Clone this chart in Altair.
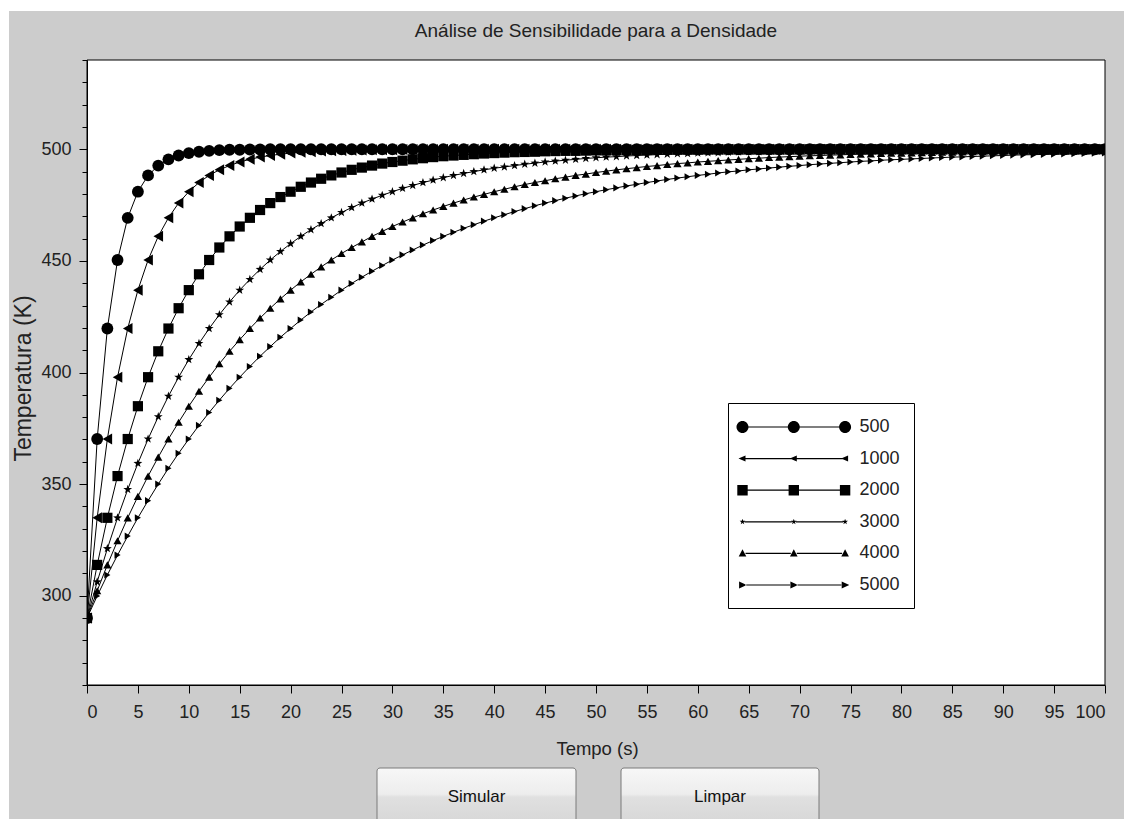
import altair as alt
import pandas as pd

# ---------------- data ----------------
TEMPO = [
    0, 1, 2, 3, 4, 5, 6, 7, 8, 9, 10, 11, 12, 13, 14, 15, 16, 17, 18, 19,
    20, 21, 22, 23, 24, 25, 26, 27, 28, 29, 30, 31, 32, 33, 34, 35, 36, 37, 38, 39,
    40, 41, 42, 43, 44, 45, 46, 47, 48, 49, 50, 51, 52, 53, 54, 55, 56, 57, 58, 59,
    60, 61, 62, 63, 64, 65, 66, 67, 68, 69, 70, 71, 72, 73, 74, 75, 76, 77, 78, 79,
    80, 81, 82, 83, 84, 85, 86, 87, 88, 89, 90, 91, 92, 93, 94, 95, 96, 97, 98, 99, 100,
]
DENSIDADES = ["500", "1000", "2000", "3000", "4000", "5000"]

T_500 = [
    290.0, 370.2, 419.7, 450.4, 469.3, 481.0, 488.3, 492.7, 495.5, 497.2,
    498.3, 498.9, 499.3, 499.6, 499.8, 499.8, 499.9, 499.9, 500.0, 500.0,
    500.0, 500.0, 500.0, 500.0, 500.0, 500.0, 500.0, 500.0, 500.0, 500.0,
    500.0, 500.0, 500.0, 500.0, 500.0, 500.0, 500.0, 500.0, 500.0, 500.0,
    500.0, 500.0, 500.0, 500.0, 500.0, 500.0, 500.0, 500.0, 500.0, 500.0,
    500.0, 500.0, 500.0, 500.0, 500.0, 500.0, 500.0, 500.0, 500.0, 500.0,
    500.0, 500.0, 500.0, 500.0, 500.0, 500.0, 500.0, 500.0, 500.0, 500.0,
    500.0, 500.0, 500.0, 500.0, 500.0, 500.0, 500.0, 500.0, 500.0, 500.0,
    500.0, 500.0, 500.0, 500.0, 500.0, 500.0, 500.0, 500.0, 500.0, 500.0,
    500.0, 500.0, 500.0, 500.0, 500.0, 500.0, 500.0, 500.0, 500.0, 500.0,
    500.0,
]
T_1000 = [
    290.0, 334.9, 370.2, 397.9, 419.7, 436.9, 450.4, 461.0, 469.3, 475.9,
    481.0, 485.1, 488.3, 490.8, 492.7, 494.3, 495.5, 496.5, 497.2, 497.8,
    498.3, 498.7, 498.9, 499.2, 499.3, 499.5, 499.6, 499.7, 499.8, 499.8,
    499.8, 499.9, 499.9, 499.9, 499.9, 500.0, 500.0, 500.0, 500.0, 500.0,
    500.0, 500.0, 500.0, 500.0, 500.0, 500.0, 500.0, 500.0, 500.0, 500.0,
    500.0, 500.0, 500.0, 500.0, 500.0, 500.0, 500.0, 500.0, 500.0, 500.0,
    500.0, 500.0, 500.0, 500.0, 500.0, 500.0, 500.0, 500.0, 500.0, 500.0,
    500.0, 500.0, 500.0, 500.0, 500.0, 500.0, 500.0, 500.0, 500.0, 500.0,
    500.0, 500.0, 500.0, 500.0, 500.0, 500.0, 500.0, 500.0, 500.0, 500.0,
    500.0, 500.0, 500.0, 500.0, 500.0, 500.0, 500.0, 500.0, 500.0, 500.0,
    500.0,
]
T_2000 = [
    290.0, 313.8, 334.9, 353.6, 370.2, 384.9, 397.9, 409.5, 419.7, 428.8,
    436.9, 444.0, 450.4, 456.0, 461.0, 465.4, 469.3, 472.8, 475.9, 478.6,
    481.0, 483.2, 485.1, 486.8, 488.3, 489.6, 490.8, 491.8, 492.7, 493.6,
    494.3, 494.9, 495.5, 496.0, 496.5, 496.9, 497.2, 497.5, 497.8, 498.1,
    498.3, 498.5, 498.7, 498.8, 498.9, 499.1, 499.2, 499.3, 499.3, 499.4,
    499.5, 499.5, 499.6, 499.6, 499.7, 499.7, 499.8, 499.8, 499.8, 499.8,
    499.8, 499.9, 499.9, 499.9, 499.9, 499.9, 499.9, 499.9, 499.9, 499.9,
    499.9, 500.0, 500.0, 500.0, 500.0, 500.0, 500.0, 500.0, 500.0, 500.0,
    500.0, 500.0, 500.0, 500.0, 500.0, 500.0, 500.0, 500.0, 500.0, 500.0,
    500.0, 500.0, 500.0, 500.0, 500.0, 500.0, 500.0, 500.0, 500.0, 500.0,
    500.0,
]
T_3000 = [
    290.0, 306.2, 321.1, 334.9, 347.6, 359.3, 370.2, 380.2, 389.4, 397.9,
    405.8, 413.0, 419.7, 425.9, 431.6, 436.9, 441.7, 446.2, 450.4, 454.2,
    457.7, 461.0, 464.0, 466.7, 469.3, 471.7, 473.9, 475.9, 477.7, 479.4,
    481.0, 482.5, 483.8, 485.1, 486.2, 487.3, 488.3, 489.2, 490.0, 490.8,
    491.5, 492.1, 492.7, 493.3, 493.8, 494.3, 494.7, 495.1, 495.5, 495.9,
    496.2, 496.5, 496.7, 497.0, 497.2, 497.4, 497.6, 497.8, 498.0, 498.1,
    498.3, 498.4, 498.5, 498.7, 498.8, 498.9, 498.9, 499.0, 499.1, 499.2,
    499.2, 499.3, 499.3, 499.4, 499.4, 499.5, 499.5, 499.6, 499.6, 499.6,
    499.7, 499.7, 499.7, 499.7, 499.8, 499.8, 499.8, 499.8, 499.8, 499.8,
    499.8, 499.9, 499.9, 499.9, 499.9, 499.9, 499.9, 499.9, 499.9, 499.9,
    499.9,
]
T_4000 = [
    290.0, 302.2, 313.8, 324.6, 334.9, 344.5, 353.6, 362.1, 370.2, 377.7,
    384.9, 391.6, 397.9, 403.9, 409.5, 414.7, 419.7, 424.4, 428.8, 433.0,
    436.9, 440.6, 444.0, 447.3, 450.4, 453.3, 456.0, 458.5, 461.0, 463.2,
    465.4, 467.4, 469.3, 471.1, 472.8, 474.4, 475.9, 477.3, 478.6, 479.8,
    481.0, 482.1, 483.2, 484.2, 485.1, 485.9, 486.8, 487.5, 488.3, 488.9,
    489.6, 490.2, 490.8, 491.3, 491.8, 492.3, 492.7, 493.2, 493.6, 493.9,
    494.3, 494.6, 494.9, 495.2, 495.5, 495.8, 496.0, 496.3, 496.5, 496.7,
    496.9, 497.1, 497.2, 497.4, 497.5, 497.7, 497.8, 497.9, 498.1, 498.2,
    498.3, 498.4, 498.5, 498.6, 498.7, 498.7, 498.8, 498.9, 498.9, 499.0,
    499.1, 499.1, 499.2, 499.2, 499.3, 499.3, 499.3, 499.4, 499.4, 499.5,
    499.5,
]
T_5000 = [
    290.0, 299.9, 309.3, 318.2, 326.7, 334.9, 342.6, 350.0, 357.1, 363.8,
    370.2, 376.3, 382.1, 387.6, 392.9, 397.9, 402.7, 407.3, 411.6, 415.8,
    419.7, 423.5, 427.1, 430.5, 433.7, 436.9, 439.9, 442.7, 445.4, 447.9,
    450.4, 452.7, 454.9, 457.1, 459.1, 461.0, 462.8, 464.6, 466.2, 467.8,
    469.3, 470.7, 472.1, 473.4, 474.7, 475.9, 477.0, 478.1, 479.1, 480.1,
    481.0, 481.9, 482.7, 483.6, 484.3, 485.1, 485.8, 486.5, 487.1, 487.7,
    488.3, 488.8, 489.4, 489.9, 490.3, 490.8, 491.2, 491.6, 492.0, 492.4,
    492.7, 493.1, 493.4, 493.7, 494.0, 494.3, 494.6, 494.8, 495.1, 495.3,
    495.5, 495.7, 495.9, 496.1, 496.3, 496.5, 496.6, 496.8, 496.9, 497.1,
    497.2, 497.4, 497.5, 497.6, 497.7, 497.8, 497.9, 498.0, 498.1, 498.2,
    498.3,
]

X_TICKS = [0, 5, 10, 15, 20, 25, 30, 35, 40, 45, 50, 55, 60, 65, 70, 75, 80, 85, 90, 95, 100]
Y_TICKS = [260, 270, 280, 290, 300, 310, 320, 330, 340, 350, 360, 370, 380, 390, 400,
           410, 420, 430, 440, 450, 460, 470, 480, 490, 500, 510, 520, 530, 540]

TITLE = "Análise de Sensibilidade para a Densidade"
X_TITLE = "Tempo (s)"
Y_TITLE = "Temperatura (K)"
BUTTONS = ["Simular", "Limpar"]

# ---------------- build long table ----------------
rows = []
for dens, vals in zip(DENSIDADES, [T_500, T_1000, T_2000, T_3000, T_4000, T_5000]):
    assert len(vals) == len(TEMPO), (dens, len(vals))
    for t, v in zip(TEMPO, vals):
        rows.append({"tempo": t, "temp": v, "dens": dens})
df = pd.DataFrame(rows)

# ---------------- styling ----------------
W, H = 1018, 625
FONT = "Liberation Sans, Arial, sans-serif"
TXT = "#222222"

STAR = ("M0,-1 L0.235,-0.324 L0.951,-0.309 L0.38,0.124 L0.588,0.809 L0,0.4 "
        "L-0.588,0.809 L-0.38,0.124 L-0.951,-0.309 L-0.235,-0.324 Z")
PLOT_SHAPES = ["circle", "triangle-left", "square", STAR, "triangle-up", "triangle-right"]
PLOT_SIZES = [140, 50, 110, 40, 60, 60]


# legend symbols: line with three markers (unit = 10 px at symbolSize 400)
def f(v):
    return f"{v:.3f}"


def m_circle(cx, r=0.6):
    return (f"M{f(cx - r)},0 A{r},{r} 0 1,1 {f(cx + r)},0 A{r},{r} 0 1,1 {f(cx - r)},0 Z")


def m_square(cx, a=0.52):
    return f"M{f(cx - a)},{-a} L{f(cx + a)},{-a} L{f(cx + a)},{a} L{f(cx - a)},{a} Z"


def m_tleft(cx):
    return f"M{f(cx - 0.4)},0 L{f(cx + 0.3)},-0.3 L{f(cx + 0.3)},0.3 Z"


def m_tright(cx):
    return f"M{f(cx + 0.42)},0 L{f(cx - 0.34)},-0.34 L{f(cx - 0.34)},0.34 Z"


def m_tup(cx):
    return f"M{f(cx)},-0.42 L{f(cx + 0.38)},0.3 L{f(cx - 0.38)},0.3 Z"


def m_star(cx, s=0.3):
    pts = [(0, -1), (0.235, -0.324), (0.951, -0.309), (0.38, 0.124), (0.588, 0.809),
           (0, 0.4), (-0.588, 0.809), (-0.38, 0.124), (-0.951, -0.309), (-0.235, -0.324)]
    return "M" + " L".join(f"{f(cx + px * s)},{f(py * s)}" for px, py in pts) + " Z"


def legend_symbol(marker, hw, gap=5.13, th=0.06):
    parts = []
    centers = [-gap, 0.0, gap]
    for c in centers:
        parts.append(marker(c))
    for a, b in zip(centers[:-1], centers[1:]):
        x0, x1 = a + hw, b - hw
        parts.append(f"M{f(x0)},{-th} L{f(x1)},{-th} L{f(x1)},{th} L{f(x0)},{th} Z")
    return " ".join(parts)


LEGEND_SHAPES = [
    legend_symbol(m_circle, 0.55),
    legend_symbol(m_tleft, 0.25),
    legend_symbol(m_square, 0.5),
    legend_symbol(m_star, 0.2),
    legend_symbol(m_tup, 0.3),
    legend_symbol(m_tright, 0.3),
]

xs = alt.Scale(domain=[0, 100], nice=False, zero=False)
ys = alt.Scale(domain=[260, 540], nice=False, zero=False)

x_axis = alt.Axis(values=X_TICKS, title=X_TITLE, labelAngle=0, tickSize=8,
                  labelPadding=19, labelBaseline="middle", zindex=1, labelOverlap=False,
                  titleX=510, titleY=63, titleBaseline="middle", titleAlign="center",
                  titleFontSize=18.5)
y_axis = alt.Axis(values=Y_TICKS, title=Y_TITLE, zindex=1, labelOverlap=False,
                  labelExpr="datum.value % 50 == 0 ? datum.label : ''",
                  tickSize={"condition": {"test": "datum.value % 50 == 0", "value": 8}, "value": 5},
                  labelPadding=8,
                  titleX=-64, titleY=318, titleAngle=-90, titleBaseline="middle",
                  titleAlign="center", titleFontSize=23)

one = pd.DataFrame({"k": [0]})

bg = alt.Chart(one).mark_rect(fill="#cccccc").encode(
    x=alt.value(-78), x2=alt.value(W + 19), y=alt.value(-49), y2=alt.value(H + 134))

frame = alt.Chart(one).mark_rect(fill="white", stroke="black", strokeWidth=1).encode(
    x=alt.value(0), x2=alt.value(W), y=alt.value(0), y2=alt.value(H))

title = alt.Chart(pd.DataFrame({"t": [TITLE]})).mark_text(
    font=FONT, fontSize=19, color=TXT, baseline="middle", align="center").encode(
    x=alt.value(W / 2), y=alt.value(-29), text="t:N")

lines = alt.Chart(df).mark_line(color="black", strokeWidth=1, clip=True).encode(
    x=alt.X("tempo:Q", scale=xs, axis=x_axis),
    y=alt.Y("temp:Q", scale=ys, axis=y_axis),
    detail="dens:N",
)

points = alt.Chart(df).mark_point(filled=True, color="black", opacity=1, clip=True).encode(
    x=alt.X("tempo:Q", scale=xs, axis=x_axis),
    y=alt.Y("temp:Q", scale=ys, axis=y_axis),
    shape=alt.Shape("dens:N", scale=alt.Scale(domain=DENSIDADES, range=PLOT_SHAPES), legend=None),
    size=alt.Size("dens:N", scale=alt.Scale(domain=DENSIDADES, range=PLOT_SIZES), legend=None),
)

legend_layer = alt.Chart(df).transform_filter("false").mark_point(
    filled=True, color="black", opacity=1).encode(
    shape=alt.Shape("dens:N", scale=alt.Scale(domain=DENSIDADES, range=LEGEND_SHAPES),
                    legend=alt.Legend(
                        orient="none", legendX=641, legendY=343, title=None,
                        direction="vertical", padding=14, rowPadding=12.6,
                        symbolSize=400, symbolStrokeWidth=0, symbolOpacity=1,
                        symbolFillColor="black", symbolOffset=41.8, labelOffset=55.7,
                        labelFont=FONT, labelFontSize=18, labelColor=TXT,
                        labelBaseline="middle",
                        strokeColor="black", fillColor="white", cornerRadius=0)),
)

grad = alt.LinearGradient(
    gradient="linear",
    stops=[alt.GradientStop(color="#f7f7f7", offset=0),
           alt.GradientStop(color="#ededed", offset=0.45),
           alt.GradientStop(color="#e0e0e0", offset=0.5),
           alt.GradientStop(color="#d6d6d6", offset=1)],
    x1=0, x2=0, y1=0, y2=1)


def button(label, left, right):
    data = pd.DataFrame({"label": [label]})
    r = alt.Chart(data).mark_rect(fill=grad, stroke="#7a7a7a", strokeWidth=1,
                                  cornerRadius=3).encode(
        x=alt.value(left), x2=alt.value(right), y=alt.value(708), y2=alt.value(766))
    t = alt.Chart(data).mark_text(font=FONT, fontSize=17, color="#111111").encode(
        x=alt.value((left + right) / 2), y=alt.value(737), text="label:N")
    return [r, t]


layers = [bg, frame, title, lines, points, legend_layer]
layers += button(BUTTONS[0], 290, 489)
layers += button(BUTTONS[1], 534, 732)

chart = alt.layer(*layers).resolve_scale(shape="independent", size="independent").properties(
    width=W, height=H,
    autosize=alt.AutoSizeParams(type="none"),
    padding={"left": 87, "top": 60, "right": 19, "bottom": 134},
    background="white",
).configure_view(stroke=None, fill=None).configure_axis(
    grid=False, domainColor="black", tickColor="black", labelFont=FONT, labelFontSize=18,
    labelColor=TXT, titleColor=TXT, titleFont=FONT, titleFontWeight="normal", zindex=1,
    labelOverlap=False,
)

chart.save("out.html", embed_options={"renderer": "svg", "actions": False})
